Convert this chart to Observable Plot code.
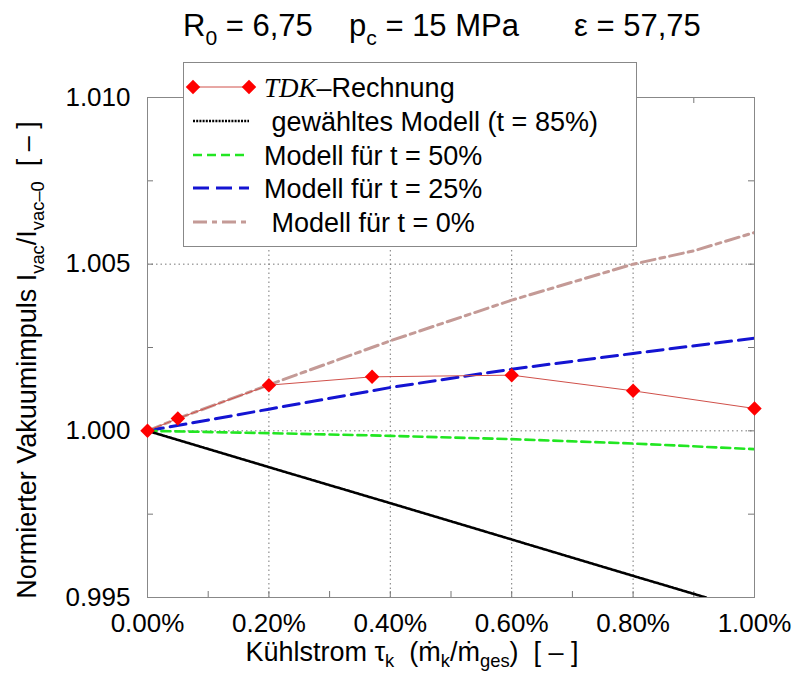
<!DOCTYPE html>
<html><head><meta charset="utf-8">
<script src="https://cdn.jsdelivr.net/npm/d3@7"></script>
<script src="https://cdn.jsdelivr.net/npm/@observablehq/plot@0.6"></script>
<style>body{margin:0;background:#fff} #chart{width:793px;height:677px}</style>
</head><body><div id="chart"></div>
<script>
// ---- data (x in %, y normalized vacuum impulse) ----
const xTicks = [0, 0.2, 0.4, 0.6, 0.8, 1.0];
const xMinor = [0.1, 0.3, 0.5, 0.7, 0.9];
const yTicks = [0.995, 1.000, 1.005, 1.010];
const yMinor = [0.9975, 1.0025, 1.0075];
const gridX = [0.2, 0.4, 0.6, 0.8];
const gridY = [1.000, 1.005];

const tdkX = [0, 0.05, 0.2, 0.37, 0.6, 0.8, 1.0];
const tdkY = [1.0000, 1.00037, 1.00137, 1.00162, 1.00167, 1.00120, 1.00067];

const t85X = [0, 0.2, 0.4, 0.6, 0.8, 0.92];
const t85Y = [1.0000, 0.99891, 0.99783, 0.99674, 0.99565, 0.99500];

const modelX = [0, 0.2, 0.4, 0.6, 0.8, 1.0];
const t50Y = [1.0000, 0.99993, 0.99985, 0.99975, 0.99962, 0.99945];
const t25Y = [1.0000, 1.00065, 1.00130, 1.00185, 1.00232, 1.00278];

const t0X = [0, 0.05, 0.2, 0.4, 0.6, 0.8, 0.9, 1.0];
const t0Y = [1.0000, 1.00037, 1.00138, 1.00270, 1.00392, 1.00500, 1.00540, 1.00595];

const zip = (xs, ys) => xs.map((x, i) => ({x, y: ys[i]}));

const FONT = "'Liberation Sans', Arial, Helvetica, sans-serif";
const W = 793, H = 677, ML = 147, MR = 39, MT = 97, MB = 80;
const PW = W - ML - MR, PH = H - MT - MB;

const styles = {
  tdk:  {stroke: "#d0504a", strokeWidth: 1},
  t85:  {stroke: "#000", strokeWidth: 2.6, strokeDasharray: "2,1.2"},
  t50:  {stroke: "#22e622", strokeWidth: 2.6, strokeDasharray: "9,5"},
  t25:  {stroke: "#1414d2", strokeWidth: 3, strokeDasharray: "16,7"},
  t0:   {stroke: "#c49a96", strokeWidth: 3, strokeDasharray: "14,5,5,5"}
};

const chart = Plot.plot({
  width: W, height: H,
  marginLeft: ML, marginRight: MR, marginTop: MT, marginBottom: MB,
  style: {fontFamily: FONT, color: "#000", background: "#fff", overflow: "visible"},
  x: {domain: [0, 1]},
  y: {domain: [0.995, 1.010]},
  marks: [
    Plot.ruleX(gridX, {x: d => d, stroke: "#777", strokeDasharray: "1.5,3", strokeWidth: 1}),
    Plot.ruleY(gridY, {y: d => d, stroke: "#777", strokeDasharray: "1.5,3", strokeWidth: 1}),
    // inward ticks on all four sides
    Plot.tickX(xTicks.concat(xMinor), {x: d => d, insetTop: PH - 6, stroke: "#777"}),
    Plot.tickX(xTicks.concat(xMinor), {x: d => d, insetBottom: PH - 6, stroke: "#777"}),
    Plot.tickY(yTicks.concat(yMinor), {y: d => d, insetRight: PW - 6, stroke: "#777"}),
    Plot.tickY(yTicks.concat(yMinor), {y: d => d, insetLeft: PW - 6, stroke: "#777"}),
    Plot.axisX(xTicks, {tickSize: 0, tickPadding: 16, tickFormat: d => d.toFixed(2) + "%", fontSize: 26, label: null}),
    Plot.axisY(yTicks, {tickSize: 0, tickPadding: 17, tickFormat: d => d.toFixed(3), fontSize: 26, label: null}),
    Plot.frame({stroke: "#888", strokeWidth: 1}),
    Plot.line(zip(t0X, t0Y), {x: "x", y: "y", ...styles.t0, clip: true}),
    Plot.line(zip(modelX, t25Y), {x: "x", y: "y", ...styles.t25, clip: true}),
    Plot.line(zip(modelX, t50Y), {x: "x", y: "y", ...styles.t50, clip: true}),
    Plot.line(zip(t85X, t85Y), {x: "x", y: "y", ...styles.t85, clip: true}),
    Plot.line(zip(tdkX, tdkY), {x: "x", y: "y", ...styles.tdk}),
    Plot.dot(zip(tdkX, tdkY), {x: "x", y: "y", symbol: "diamond2", r: 6.5, fill: "#ff0000", stroke: "none"})
  ]
});
document.getElementById("chart").appendChild(chart);

const svg = d3.select(chart);

// rich text helper: parts = [text, kind] with kind "", "sub", "it"
function rich(g, x, y, size, parts, anchor = "start", shift) {
  const t = g.append("text").attr("x", x).attr("y", y)
    .attr("font-family", FONT).attr("font-size", size).attr("fill", "#000")
    .attr("text-anchor", anchor).attr("xml:space", "preserve").style("white-space", "pre");
  let shifted = false;
  const sh = shift != null ? shift : Math.round(size * 0.28);
  for (const [txt, kind] of parts) {
    const s = t.append("tspan").text(txt);
    if (kind === "sub") {
      s.attr("font-size", size * 0.68);
      if (!shifted) { s.attr("dy", sh); shifted = true; }
    } else {
      if (shifted) { s.attr("dy", -sh); shifted = false; }
      if (kind === "it") s.attr("font-family", "'Liberation Serif', 'DejaVu Serif', serif").attr("font-style", "italic");
    }
  }
  return t;
}

// title
const tg = svg.append("g");
rich(tg, 183, 36, 31, [["R", ""], ["0", "sub"], [" = 6,75", ""]]);
rich(tg, 349, 36, 31, [["p", ""], ["c", "sub"], [" = 15 MPa", ""]]);
rich(tg, 574, 36, 31, [["ε = 57,75", ""]]);

// axis labels
rich(svg.append("g"), 412, 661, 27,
  [["Kühlstrom τ", ""], ["k", "sub"], ["  (ṁ", ""], ["k", "sub"], ["/ṁ", ""], ["ges", "sub"], [")  [ – ]", ""]], "middle", 6);
const yl = svg.append("g").attr("transform", "translate(36,360) rotate(-90)");
rich(yl, 0, 0, 27,
  [["Normierter Vakuumimpuls I", ""], ["vac", "sub"], ["/I", ""], ["vac–0", "sub"], ["  [ – ]", ""]], "middle");

// legend
const lg = svg.append("g");
lg.append("rect").attr("x", 183.5).attr("y", 62.5).attr("width", 453).attr("height", 184)
  .attr("fill", "#fff").attr("stroke", "#888");
const rows = [
  {key: "tdk", parts: [["TDK", "it"], ["–Rechnung", ""]]},
  {key: "t85", parts: [[" gewähltes Modell (t = 85%)", ""]]},
  {key: "t50", parts: [["Modell für t = 50%", ""]]},
  {key: "t25", parts: [["Modell für t = 25%", ""]]},
  {key: "t0",  parts: [[" Modell für t = 0%", ""]]}
];
const rowY = [87, 121, 155, 188, 222];
rows.forEach((r, i) => {
  const y = rowY[i], st = styles[r.key];
  lg.append("line").attr("x1", 193).attr("x2", 249).attr("y1", y).attr("y2", y)
    .attr("stroke", st.stroke).attr("stroke-width", st.strokeWidth)
    .attr("stroke-dasharray", st.strokeDasharray || null);
  if (r.key === "tdk") {
    const sym = d3.symbol(d3.symbolDiamond2, 6.5 * 6.5 * Math.PI);
    [193, 249].forEach(x => lg.append("path").attr("d", sym()).attr("transform", `translate(${x},${y})`).attr("fill", "#ff0000"));
  }
  rich(lg, 264, y + 9.5, 27, r.parts);
});
</script>
</body></html>
